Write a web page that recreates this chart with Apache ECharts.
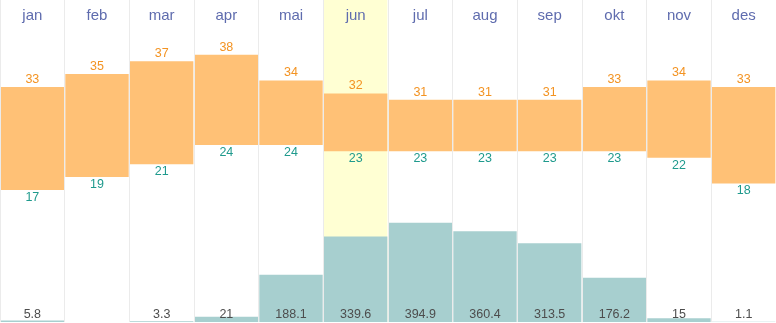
<!DOCTYPE html>
<html>
<head>
<meta charset="utf-8">
<script src="https://cdn.jsdelivr.net/npm/echarts@6/dist/echarts.min.js"></script>
<style>
html,body{margin:0;padding:0;background:#fff;}
#c{width:776px;height:323px;}
</style>
</head>
<body>
<div id="c"></div>
<script>
var months = ['jan','feb','mar','apr','mai','jun','jul','aug','sep','okt','nov','des'];
var tempMax = [33,35,37,38,34,32,31,31,31,33,34,33];
var tempMin = [17,19,21,24,24,23,23,23,23,23,22,18];
var precip = [5.8,0,3.3,21,188.1,339.6,394.9,360.4,313.5,176.2,15,1.1];
var highlightMonth = 'jun';

var FONT = '"Liberation Sans", Arial, sans-serif';
var chart = echarts.init(document.getElementById('c'));
var gapOpts = {barGap:'-100%', barCategoryGap:'2%'};

chart.setOption({
  animation:false,
  grid:{left:0,right:0,top:0,bottom:1},
  xAxis:{
    type:'category', data:months, position:'top', z:10,
    axisLine:{show:false}, axisTick:{show:false},
    splitLine:{show:true, lineStyle:{color:'#ebebeb', width:1}},
    axisLabel:{inside:true, margin:8, color:'#5f6cae', fontSize:15, fontFamily:FONT}
  },
  yAxis:[
    {type:'value', min:-3.5, max:46.5, show:false, splitLine:{show:false}},
    {type:'value', min:0, max:1280, show:false, splitLine:{show:false}},
    {type:'value', min:0, max:1, show:false, splitLine:{show:false}}
  ],
  series:[
    Object.assign({
      type:'bar', yAxisIndex:2, silent:true, z:0,
      data: months.map(function(m){ return m===highlightMonth ? 1 : null; }),
      itemStyle:{color:'#ffffd3'}
    }, gapOpts),
    Object.assign({
      type:'bar', yAxisIndex:1,
      data: precip,
      itemStyle:{color:'#a7cfcf'},
      label:{show:true, position:'insideBottom', distance:1, color:'#4d4d4d', fontSize:12.5, fontFamily:FONT,
        formatter:function(p){ return p.value ? String(p.value) : ''; }}
    }, gapOpts),
    Object.assign({
      type:'bar', yAxisIndex:0, stack:'t',
      data: tempMin,
      itemStyle:{color:'rgba(0,0,0,0)'},
      label:{show:true, position:'insideTop', distance:1, color:'#1f9a8d', fontSize:12.5, fontFamily:FONT}
    }, gapOpts),
    Object.assign({
      type:'bar', yAxisIndex:0, stack:'t',
      data: tempMax.map(function(v,i){ return v - tempMin[i]; }),
      itemStyle:{color:'#ffc176'},
      label:{show:true, position:'top', distance:1, color:'#f39322', fontSize:12.5, fontFamily:FONT,
        formatter:function(p){ return String(tempMax[p.dataIndex]); }}
    }, gapOpts)
  ]
});
</script>
</body>
</html>
